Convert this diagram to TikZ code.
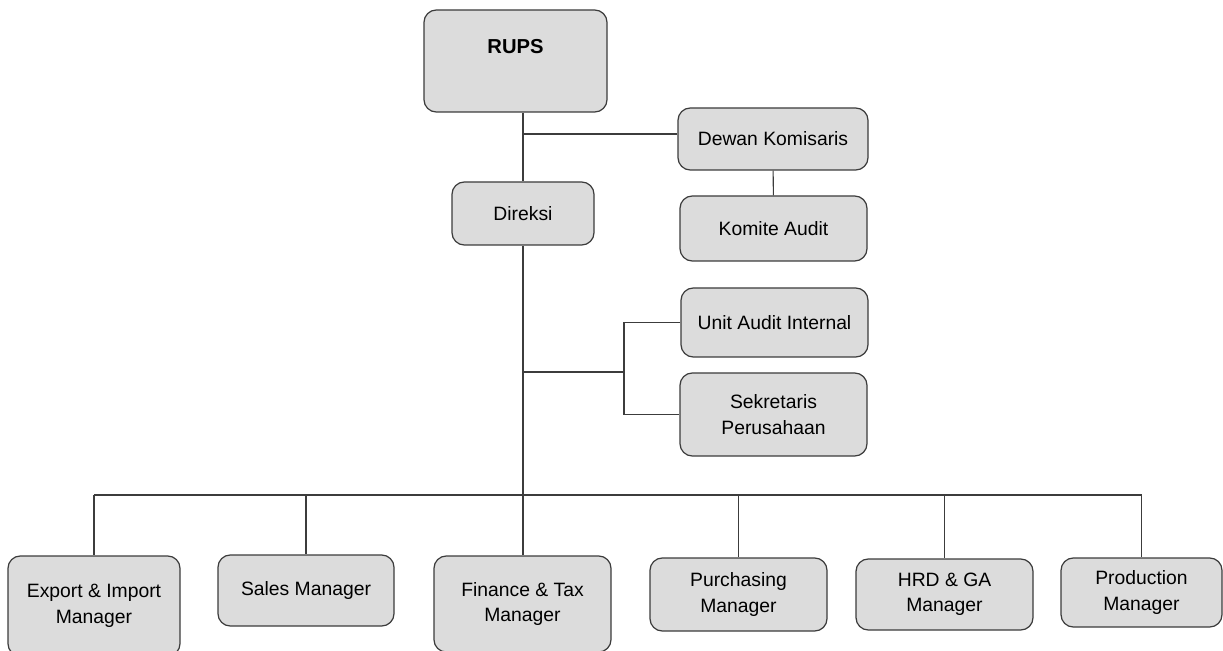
\documentclass[tikz,border=0pt]{standalone}
\usepackage{fontspec}
\setmainfont{Liberation Sans}
\usetikzlibrary{positioning}
\definecolor{boxfill}{HTML}{DCDCDC}
\definecolor{boxline}{HTML}{3C3C3C}
\tikzstyle{unit}=[draw=boxline,fill=boxfill,rectangle,rounded corners=7pt,
  line width=0.7pt,align=center,inner sep=0pt,
  font=\fontsize{11}{14.5}\selectfont]
\tikzstyle{wh}=[minimum width=#1*0.02cm]
\tikzstyle{tall}=[minimum height=#1*0.02cm]
\tikzstyle{link}=[draw=boxline,line width=0.6pt]

\begin{document}
\begin{tikzpicture}[x=0.02cm,y=-0.02cm]
    \useasboundingbox (0,0) rectangle (1223,651);
    % top levels
    \node[unit, wh=183, tall=102, text depth=16pt, font=\fontsize{11.5}{14}\selectfont\bfseries] (rups) at (515.5,61) {RUPS};
    \node[unit, wh=142, tall=63] (direksi) at (523,213.5) {Direksi};
    \node[unit, wh=190, tall=62] (dewan) at (773,139) {Dewan Komisaris};
    \node[unit, wh=187, tall=65] (komite) at (773.5,228.5) {Komite Audit};
    \node[unit, wh=187, tall=69] (uai) at (774.5,322.5) {Unit Audit Internal};
    \node[unit, wh=187, tall=83] (sekr) at (773.5,414.5) {Sekretaris\\Perusahaan};
    % managers
    \node[unit, wh=172, tall=100] (export) at (94,606) {Export \& Import\\Manager};
    \node[unit, wh=176, tall=71] (sales) at (306,590.5) {Sales Manager};
    \node[unit, wh=177, tall=96] (finance) at (522.5,604) {Finance \& Tax\\Manager};
    \node[unit, wh=177, tall=73] (purch) at (738.5,594.5) {Purchasing\\Manager};
    \node[unit, wh=177, tall=71] (hrd) at (944.5,594.5) {HRD \& GA\\Manager};
    \node[unit, wh=161, tall=69] (prod) at (1141.5,592.5) {Production\\Manager};
    \coordinate (split) at (624,372);
    \coordinate (bus) at (523,495);
    % connectors
    \draw[link] (rups.south -| direksi) -- (direksi.north);
    \draw[link] ([yshift=0.1cm]dewan.west) -- ([yshift=0.1cm]dewan.west -| direksi);
    \draw[link] (dewan) -- (komite);
    \draw[link] (direksi.south) -- (finance.north -| direksi);
    \draw[link] (split -| direksi) -- (split);
    \draw[link] (uai.west) -| (split) |- (sekr.west);
    \draw[link] (bus -| export) -- (bus -| prod);
    \foreach \m in {export,sales,purch,hrd,prod}
        \draw[link] (bus -| \m) -- (\m.north);
\end{tikzpicture}
\end{document}
